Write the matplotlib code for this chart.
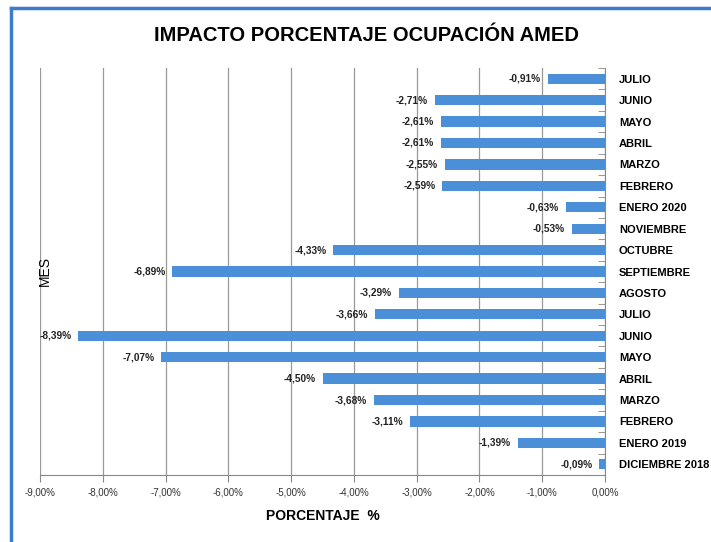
import matplotlib.pyplot as plt
from matplotlib.lines import Line2D

meses = ['JULIO', 'JUNIO', 'MAYO', 'ABRIL', 'MARZO', 'FEBRERO', 'ENERO 2020',
         'NOVIEMBRE', 'OCTUBRE', 'SEPTIEMBRE', 'AGOSTO', 'JULIO', 'JUNIO',
         'MAYO', 'ABRIL', 'MARZO', 'FEBRERO', 'ENERO 2019', 'DICIEMBRE 2018']
impacto = [-0.91, -2.71, -2.61, -2.61, -2.55, -2.59, -0.63,
           -0.53, -4.33, -6.89, -3.29, -3.66, -8.39,
           -7.07, -4.50, -3.68, -3.11, -1.39, -0.09]
x_ticks = [-9, -8, -7, -6, -5, -4, -3, -2, -1, 0]

plt.rcParams['font.family'] = ['Liberation Sans', 'DejaVu Sans']

fig = plt.figure(figsize=(7.11, 5.42), dpi=100)
ax = fig.add_axes([0.0563, 0.1236, 0.7947, 0.7509])

pos = list(range(len(meses)))
ax.barh(pos, impacto, height=0.48, color='#4A8FD8', zorder=3)
for p, v in zip(pos, impacto):
    txt = ('%.2f' % v).replace('.', ',') + '%'
    ax.annotate(txt, (v, p), xytext=(-5, 0), textcoords='offset points',
                ha='right', va='center', fontsize=7.3, fontweight='bold',
                color='#222222')

ax.set_xlim(-9, 0)
ax.set_ylim(len(meses) - 0.5, -0.5)
ax.set_xticks(x_ticks)
ax.set_xticklabels([('%.2f' % t).replace('.', ',') + '%' for t in x_ticks],
                   fontsize=7, color='#333333')
ax.tick_params(axis='x', length=5, color='#888888', pad=4)
ax.grid(axis='x', color='#999999', linewidth=0.9, zorder=0)

ax.yaxis.tick_right()
ax.set_yticks(pos)
ax.set_yticklabels(meses, fontsize=8, fontweight='bold')
ax.set_yticks([p + 0.5 for p in pos[:-1]] + [-0.5], minor=True)
ax.tick_params(axis='y', which='major', length=0, pad=10)
ax.tick_params(axis='y', which='minor', direction='in', length=5,
               color='#888888')

for s in ['top', 'left']:
    ax.spines[s].set_visible(False)
ax.spines['right'].set_color('#888888')
ax.spines['bottom'].set_color('#888888')

ax.set_xlabel('PORCENTAJE  %', fontsize=10, fontweight='bold', labelpad=8)
fig.text(0.063, 0.5, 'MES', rotation=90, fontsize=10, va='center', ha='center')
fig.text(0.515, 0.935, 'IMPACTO PORCENTAJE OCUPACIÓN AMED', fontsize=14.5,
         fontweight='bold', ha='center', va='center')

# marco azul
fig.add_artist(Line2D([0.0148, 0.0148], [0, 0.985], color='#3B7DC9', lw=2.5))
fig.add_artist(Line2D([0.0148, 1], [0.985, 0.985], color='#3B7DC9', lw=2.5))

fig.savefig('out.png', dpi=100)
